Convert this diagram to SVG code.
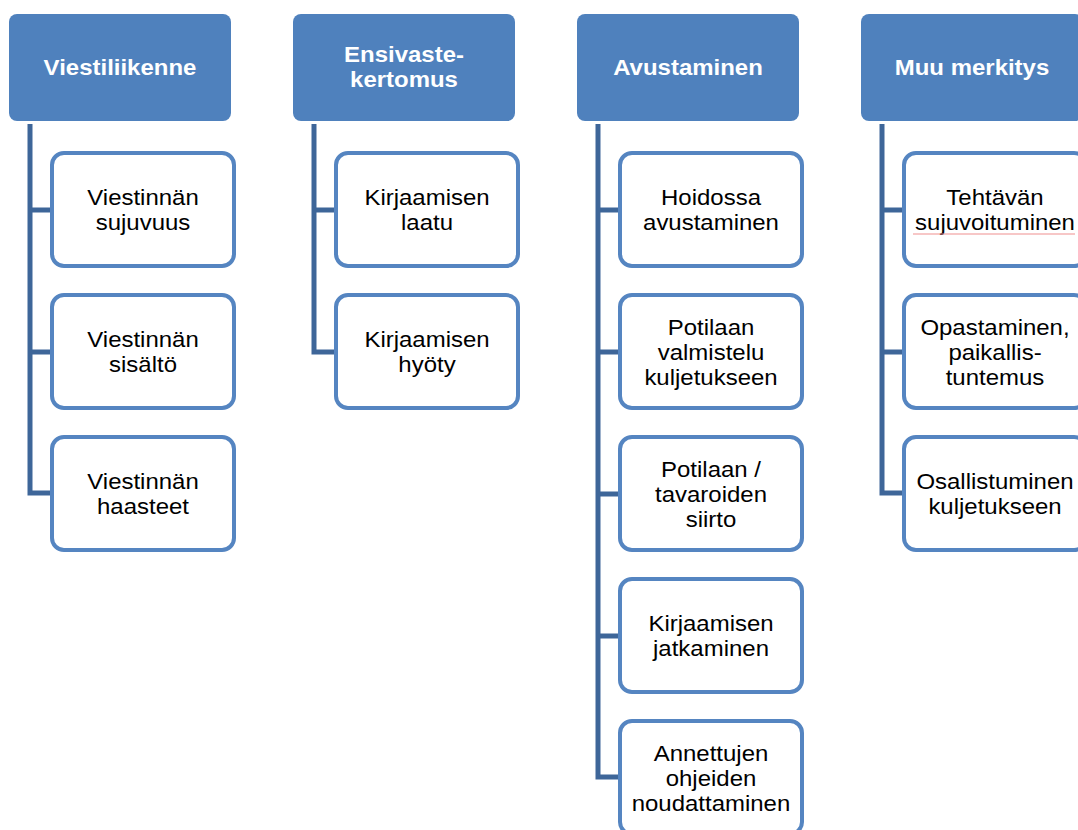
<svg xmlns="http://www.w3.org/2000/svg" width="1078" height="830" viewBox="0 0 1078 830">
<style>
.hd{fill:#4F81BD;}
.ht{font-family:"Liberation Sans",Arial,sans-serif;font-size:22px;font-weight:bold;fill:#fff;text-anchor:middle;}
.bx{fill:#fff;stroke:#5585C1;stroke-width:4;}
.bt{font-family:"Liberation Sans",Arial,sans-serif;font-size:22px;fill:#000;text-anchor:middle;}
.cn{fill:none;stroke:#3E6699;stroke-width:5;}
</style>
<rect width="1078" height="830" fill="#fff"/>
<g id="connectors">
<path class="cn" d="M30,124 V493 H52 M30,210 H52 M30,352 H52"/>
<path class="cn" d="M314,124 V352 H336 M314,210 H336"/>
<path class="cn" d="M598,124 V777 H620 M598,210 H620 M598,352 H620 M598,494 H620 M598,636 H620"/>
<path class="cn" d="M882,124 V493 H904 M882,210 H904 M882,352 H904"/>
</g>
<g id="h1"><rect class="hd" x="9" y="14" width="222" height="107" rx="8"/><text class="ht" transform="translate(120,75) scale(1.09,1)">Viestiliikenne</text></g>
<g id="h2"><rect class="hd" x="293" y="14" width="222" height="107" rx="8"/><text class="ht" transform="translate(404,62) scale(1.09,1)">Ensivaste-</text><text class="ht" transform="translate(404,87) scale(1.09,1)">kertomus</text></g>
<g id="h3"><rect class="hd" x="577" y="14" width="222" height="107" rx="8"/><text class="ht" transform="translate(688,75) scale(1.09,1)">Avustaminen</text></g>
<g id="h4"><rect class="hd" x="861" y="14" width="222" height="107" rx="8"/><text class="ht" transform="translate(972,75) scale(1.09,1)">Muu merkitys</text></g>

<g id="c1a"><rect class="bx" x="52" y="153" width="182" height="113" rx="12"/><text class="bt" transform="translate(143,205) scale(1.09,1)">Viestinnän</text><text class="bt" transform="translate(143,230) scale(1.09,1)">sujuvuus</text></g>
<g id="c1b"><rect class="bx" x="52" y="295" width="182" height="113" rx="12"/><text class="bt" transform="translate(143,347) scale(1.09,1)">Viestinnän</text><text class="bt" transform="translate(143,372) scale(1.09,1)">sisältö</text></g>
<g id="c1c"><rect class="bx" x="52" y="437" width="182" height="113" rx="12"/><text class="bt" transform="translate(143,489) scale(1.09,1)">Viestinnän</text><text class="bt" transform="translate(143,514) scale(1.09,1)">haasteet</text></g>

<g id="c2a"><rect class="bx" x="336" y="153" width="182" height="113" rx="12"/><text class="bt" transform="translate(427,205) scale(1.09,1)">Kirjaamisen</text><text class="bt" transform="translate(427,230) scale(1.09,1)">laatu</text></g>
<g id="c2b"><rect class="bx" x="336" y="295" width="182" height="113" rx="12"/><text class="bt" transform="translate(427,347) scale(1.09,1)">Kirjaamisen</text><text class="bt" transform="translate(427,372) scale(1.09,1)">hyöty</text></g>

<g id="c3a"><rect class="bx" x="620" y="153" width="182" height="113" rx="12"/><text class="bt" transform="translate(711,205) scale(1.09,1)">Hoidossa</text><text class="bt" transform="translate(711,230) scale(1.09,1)">avustaminen</text></g>
<g id="c3b"><rect class="bx" x="620" y="295" width="182" height="113" rx="12"/><text class="bt" transform="translate(711,335) scale(1.09,1)">Potilaan</text><text class="bt" transform="translate(711,360) scale(1.09,1)">valmistelu</text><text class="bt" transform="translate(711,385) scale(1.09,1)">kuljetukseen</text></g>
<g id="c3c"><rect class="bx" x="620" y="437" width="182" height="113" rx="12"/><text class="bt" transform="translate(711,477) scale(1.09,1)">Potilaan /</text><text class="bt" transform="translate(711,502) scale(1.09,1)">tavaroiden</text><text class="bt" transform="translate(711,527) scale(1.09,1)">siirto</text></g>
<g id="c3d"><rect class="bx" x="620" y="579" width="182" height="113" rx="12"/><text class="bt" transform="translate(711,631) scale(1.09,1)">Kirjaamisen</text><text class="bt" transform="translate(711,656) scale(1.09,1)">jatkaminen</text></g>
<g id="c3e"><rect class="bx" x="620" y="721" width="182" height="113" rx="12"/><text class="bt" transform="translate(711,761) scale(1.09,1)">Annettujen</text><text class="bt" transform="translate(711,786) scale(1.09,1)">ohjeiden</text><text class="bt" transform="translate(711,811) scale(1.09,1)">noudattaminen</text></g>

<g id="c4a"><rect class="bx" x="904" y="153" width="182" height="113" rx="12"/><text class="bt" transform="translate(995,205) scale(1.09,1)">Tehtävän</text><text class="bt" transform="translate(995,230) scale(1.09,1)">sujuvoituminen</text><path d="M913,234 H1075" stroke="#F09090" stroke-width="1.2" fill="none"/></g>
<g id="c4b"><rect class="bx" x="904" y="295" width="182" height="113" rx="12"/><text class="bt" transform="translate(995,335) scale(1.09,1)">Opastaminen,</text><text class="bt" transform="translate(995,360) scale(1.09,1)">paikallis-</text><text class="bt" transform="translate(995,385) scale(1.09,1)">tuntemus</text></g>
<g id="c4c"><rect class="bx" x="904" y="437" width="182" height="113" rx="12"/><text class="bt" transform="translate(995,489) scale(1.09,1)">Osallistuminen</text><text class="bt" transform="translate(995,514) scale(1.09,1)">kuljetukseen</text></g>
</svg>
